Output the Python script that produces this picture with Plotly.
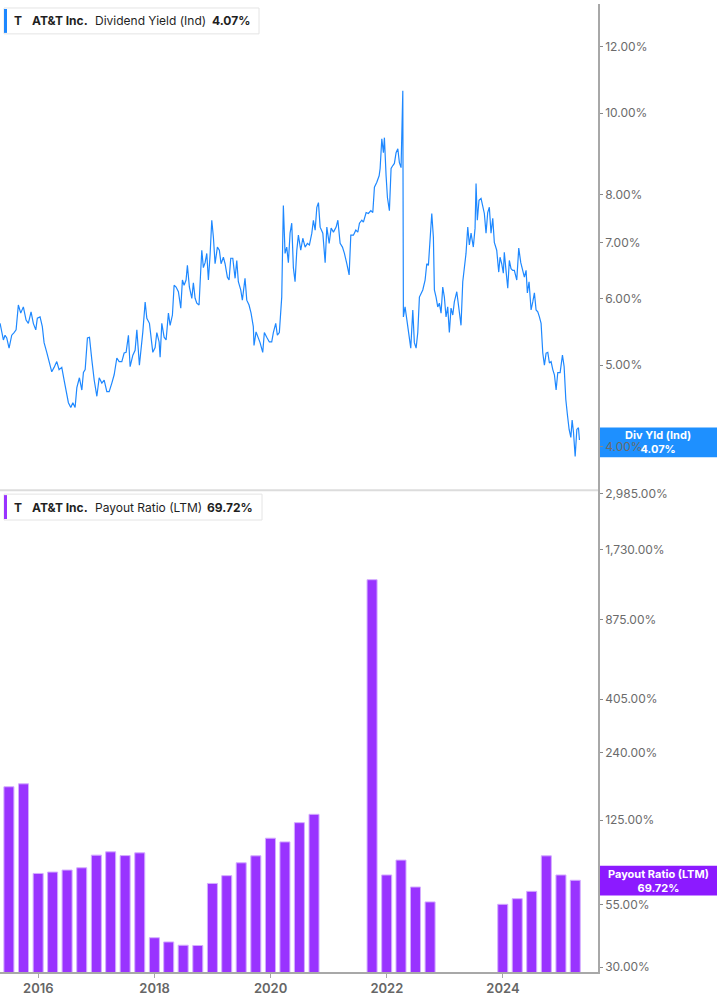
import plotly.graph_objects as go
import pandas as pd
from datetime import datetime, timedelta

# ---------------- data ----------------
yield_t = [
    2015.341, 2015.370, 2015.398, 2015.427, 2015.456, 2015.496, 2015.542, 2015.582, 2015.617, 2015.656,
    2015.697, 2015.742, 2015.789, 2015.828, 2015.875, 2015.914, 2015.956, 2015.983, 2016.030, 2016.069,
    2016.099, 2016.145, 2016.190, 2016.231, 2016.271, 2016.317, 2016.357, 2016.403, 2016.443, 2016.477,
    2016.517, 2016.558, 2016.593, 2016.632, 2016.662, 2016.706, 2016.748, 2016.775, 2016.805, 2016.844,
    2016.879, 2016.920, 2016.960, 2017.006, 2017.046, 2017.092, 2017.132, 2017.178, 2017.218, 2017.264,
    2017.304, 2017.350, 2017.390, 2017.436, 2017.476, 2017.510, 2017.550, 2017.579, 2017.626, 2017.665,
    2017.695, 2017.739,
    2017.798, 2017.838, 2017.867, 2017.912, 2017.936, 2017.970, 2018.010, 2018.039, 2018.079, 2018.096,
    2018.125, 2018.165, 2018.199, 2018.239, 2018.268, 2018.308, 2018.337, 2018.371, 2018.411, 2018.452,
    2018.480, 2018.509, 2018.543, 2018.566, 2018.600, 2018.642, 2018.669, 2018.699, 2018.728, 2018.767,
    2018.785, 2018.814, 2018.841, 2018.871, 2018.900, 2018.928, 2018.957, 2018.986, 2019.014, 2019.043,
    2019.083, 2019.117, 2019.146, 2019.186, 2019.215, 2019.255, 2019.284, 2019.313, 2019.348, 2019.388,
    2019.417, 2019.444, 2019.485, 2019.513, 2019.559, 2019.589, 2019.628, 2019.663, 2019.702, 2019.714,
    2019.749, 2019.788, 2019.818, 2019.864, 2019.892, 2019.933, 2019.978, 2020.019, 2020.047, 2020.088,
    2020.116, 2020.150,
    2020.191, 2020.219, 2020.248, 2020.277, 2020.305, 2020.334, 2020.363, 2020.391, 2020.420, 2020.450,
    2020.477, 2020.518, 2020.553, 2020.593, 2020.632, 2020.667, 2020.708, 2020.735, 2020.765, 2020.794,
    2020.822, 2020.851, 2020.897, 2020.937, 2020.966, 2021.006, 2021.040, 2021.080, 2021.126, 2021.156,
    2021.195, 2021.235, 2021.269, 2021.310, 2021.350, 2021.379, 2021.424, 2021.465, 2021.500, 2021.528,
    2021.569, 2021.596, 2021.643, 2021.682, 2021.724, 2021.758, 2021.786, 2021.827, 2021.867, 2021.884,
    2021.913, 2021.941, 2021.958, 2021.987, 2022.010, 2022.044, 2022.073, 2022.103, 2022.130, 2022.159,
    2022.189, 2022.216, 2022.245, 2022.275, 2022.285, 2022.314, 2022.343, 2022.378, 2022.412, 2022.447,
    2022.474, 2022.504, 2022.533, 2022.561,
    2022.619, 2022.659, 2022.688, 2022.716, 2022.745, 2022.774, 2022.802, 2022.819, 2022.848, 2022.877,
    2022.905, 2022.934, 2022.963, 2022.991, 2023.020, 2023.049, 2023.077, 2023.106, 2023.136, 2023.163,
    2023.205, 2023.244, 2023.278, 2023.308, 2023.335, 2023.364, 2023.394, 2023.422, 2023.451, 2023.490,
    2023.520, 2023.537, 2023.559, 2023.588, 2023.623, 2023.652, 2023.680, 2023.709, 2023.738, 2023.766,
    2023.795, 2023.825, 2023.852, 2023.893, 2023.928, 2023.950, 2023.979, 2024.007, 2024.024, 2024.053,
    2024.083, 2024.110, 2024.139, 2024.169, 2024.196, 2024.238, 2024.272, 2024.307, 2024.341, 2024.369,
    2024.398, 2024.420, 2024.449, 2024.484, 2024.513, 2024.541, 2024.570, 2024.599, 2024.627, 2024.656,
    2024.685, 2024.713, 2024.742, 2024.771, 2024.799, 2024.828, 2024.857, 2024.885, 2024.914, 2024.943,
    2024.983, 2025.023, 2025.052, 2025.081, 2025.109, 2025.138, 2025.168, 2025.190, 2025.213, 2025.242,
    2025.271, 2025.299, 2025.316,
]
yield_pct = [
    5.61, 5.47, 5.36, 5.43, 5.39, 5.24, 5.43, 5.47, 5.51, 5.90,
    5.77, 5.87, 5.66, 5.61, 5.79, 5.61, 5.51, 5.69, 5.71, 5.56,
    5.32, 5.18, 5.03, 4.91, 4.97, 5.05, 4.94, 4.97, 4.80, 4.67,
    4.51, 4.45, 4.51, 4.45, 4.70, 4.83, 4.67, 4.90, 4.94, 5.39,
    5.40, 5.07, 4.80, 4.59, 4.83, 4.76, 4.80, 4.65, 4.65, 4.76,
    4.87, 5.10, 5.05, 5.05, 5.17, 5.18, 5.43, 4.98, 5.14, 5.21,
    5.51, 5.00,
    5.48, 5.95, 5.69, 5.61, 5.40, 5.18, 5.25, 5.47, 5.33, 5.11,
    5.61, 5.40, 5.36, 5.77, 5.58, 5.74, 6.23, 6.20, 6.12, 5.85,
    6.32, 6.23, 6.32, 6.58, 6.20, 6.01, 6.27, 6.01, 5.93, 5.90,
    6.27, 6.86, 6.54, 6.63, 6.80, 6.32, 6.77, 7.45, 7.11, 6.61,
    6.92, 6.86, 6.61, 6.73, 6.61, 6.37, 6.32, 6.71, 6.71, 6.35,
    6.67, 6.29, 6.15, 5.98, 6.35, 5.98, 5.90, 5.77, 5.56, 5.28,
    5.48, 5.40, 5.32, 5.18, 5.47, 5.40, 5.33, 5.33, 5.47, 5.61,
    5.43, 5.47,
    6.03, 7.76, 6.80, 6.92, 6.63, 7.19, 7.39, 6.54, 6.29, 6.86,
    7.15, 6.86, 7.09, 6.92, 6.99, 6.96, 7.19, 7.45, 7.25, 7.72,
    7.82, 7.31, 7.19, 6.63, 7.31, 6.99, 7.29, 7.21, 7.31, 7.45,
    6.99, 6.92, 6.80, 6.61, 6.41, 7.15, 7.15, 7.25, 7.21, 7.39,
    7.45, 7.41, 7.61, 7.59, 7.65, 7.61, 8.16, 8.27, 8.42, 8.59,
    9.32, 8.97, 9.35, 8.42, 7.93, 7.65, 8.59, 8.66, 8.71, 8.97,
    9.07, 8.73, 8.61, 10.64, 5.71, 5.87, 5.66, 5.40, 5.24, 5.82,
    5.32, 5.24, 5.47, 6.03,
    6.15, 6.32, 6.61, 6.58, 7.21, 7.59, 7.11, 6.15, 6.03, 5.87,
    5.93, 5.77, 6.20, 6.03, 5.71, 5.87, 5.47, 5.85, 5.74, 5.95,
    6.12, 5.82, 5.58, 6.29, 6.54, 6.80, 7.31, 6.96, 7.19, 6.92,
    7.29, 8.24, 7.45, 7.87, 7.91, 7.70, 7.59, 7.19, 7.61, 7.72,
    7.19, 7.49, 7.01, 6.86, 6.46, 6.73, 6.61, 6.44, 6.82, 6.49,
    6.18, 6.67, 6.52, 6.49, 6.49, 6.32, 6.90, 6.63, 6.49, 6.37,
    6.49, 6.10, 6.29, 5.82, 5.95, 6.10, 5.82, 5.79, 5.71, 5.61,
    5.17, 5.00, 5.17, 5.18, 5.03, 5.05, 4.94, 4.87, 4.67, 4.90,
    4.90, 5.14, 4.98, 4.55, 4.36, 4.19, 4.10, 4.30, 4.16, 3.89,
    4.19, 4.21, 4.07,
]

payout_quarters = [
    "2015Q2", "2015Q3", "2015Q4", "2016Q1", "2016Q2", "2016Q3", "2016Q4", "2017Q1", "2017Q2", "2017Q3",
    "2017Q4", "2018Q1", "2018Q2", "2018Q3", "2018Q4", "2019Q1", "2019Q2", "2019Q3", "2019Q4", "2020Q1",
    "2020Q2", "2020Q3", "2021Q3", "2021Q4", "2022Q1", "2022Q2", "2022Q3",
    "2023Q4", "2024Q1", "2024Q2", "2024Q3", "2024Q4", "2025Q1",
]
payout_pct = [
    172.9, 177.9, 74.5, 75.5, 77.0, 78.7, 89.0, 91.9, 88.6, 91.0,
    39.9, 38.3, 37.1, 37.0, 67.6, 72.9, 82.6, 88.4, 104.9, 101.2,
    122.0, 132.3, 1292.0, 73.4, 84.8, 65.3, 56.5,
    55.2, 58.3, 62.6, 88.4, 73.4, 69.72,
]

yield_ticks = [4, 5, 6, 7, 8, 10, 12]
payout_ticks = [30, 55, 125, 240, 405, 875, 1730, 2985]
year_ticks = [2016, 2018, 2020, 2022, 2024]

ticker = "T"
company = "AT&T Inc."
yield_name = "Dividend Yield (Ind)"
payout_name = "Payout Ratio (LTM)"
yield_short = "Div Yld (Ind)"
last_yield = yield_pct[-1]
last_payout = payout_pct[-1]

# ---------------- helpers ----------------
def dec_to_date(t):
    y = int(t)
    start = datetime(y, 1, 1)
    nd = (datetime(y + 1, 1, 1) - start).days
    return start + timedelta(days=(t - y) * nd)

yield_dates = [dec_to_date(t) for t in yield_t]
payout_dates = [pd.Period(q, freq="Q").end_time.normalize() for q in payout_quarters]

W, H = 717, 1005
PL, PR, PT, PB = 0, 598, 0, 971.7   # plot area in px
SPLIT = 488.0

def px(xp):
    return (xp - PL) / (PR - PL)

def py(yp):
    return (PB - yp) / (PB - PT)

BLUE = "#1e88ff"
PURPLE = "#9933ff"
FONT = "Inter"

fig = go.Figure()
fig.add_trace(go.Scatter(
    x=yield_dates, y=yield_pct, mode="lines",
    line=dict(color=BLUE, width=1.2), xaxis="x", yaxis="y",
    showlegend=False, hoverinfo="skip",
))
fig.add_trace(go.Bar(
    x=payout_dates, y=payout_pct, xaxis="x2", yaxis="y2",
    marker=dict(color=PURPLE, line=dict(color="#d4adff", width=1)),
    width=63 * 86400000, showlegend=False, hoverinfo="skip",
))

split_frac = py(SPLIT)
xrange = ["2015-05-05", "2025-08-21"]
tickfont = dict(family=FONT, size=12, color="#6b6b6b")

fig.update_layout(
    width=W, height=H,
    margin=dict(l=PL, r=W - PR, t=PT, b=H - PB),
    paper_bgcolor="white", plot_bgcolor="white",
    font=dict(family=FONT),
    xaxis=dict(domain=[0, 1], anchor="y", matches="x2", type="date", range=xrange,
               showticklabels=False, showline=False, showgrid=False, zeroline=False, ticks=""),
    yaxis=dict(domain=[split_frac, 1], anchor="x", side="right", type="log",
               range=[0.5497, 1.1305], tickvals=yield_ticks,
               ticktext=[f"{v:.2f}%" for v in yield_ticks],
               showgrid=False, zeroline=False, showline=True, linecolor="#a8a8a8", linewidth=1.5,
               ticks="outside", ticklen=3, tickwidth=1, tickcolor="#888",
               tickfont=tickfont),
    xaxis2=dict(domain=[0, 1], anchor="y2", type="date", range=xrange,
                tickvals=[datetime(y, 1, 1) for y in year_ticks],
                ticktext=[str(y) for y in year_ticks],
                showgrid=False, zeroline=False, showline=True, linecolor="#a8a8a8", linewidth=1.5,
                ticks="outside", ticklen=4, tickcolor="#a8a8a8",
                tickfont=dict(family=FONT, size=13, color="#666", weight=600)),
    yaxis2=dict(domain=[0, split_frac], anchor="x2", side="right", type="log",
                range=[1.4564, 3.489], tickvals=payout_ticks,
                ticktext=[f"{v:,.2f}%" for v in payout_ticks],
                showgrid=False, zeroline=False, showline=True, linecolor="#a8a8a8", linewidth=1.5,
                ticks="outside", ticklen=3, tickwidth=1, tickcolor="#888",
                tickfont=tickfont),
    bargap=0.3,
)

shapes = []
annotations = []

# divider between panels
shapes.append(dict(type="line", xref="paper", yref="paper", x0=0, x1=1,
                   y0=split_frac, y1=split_frac, line=dict(color="#dcdcdc", width=2)))

def legend_box(y0, y1, xr, color, parts):
    shapes.append(dict(type="rect", xref="paper", yref="paper", x0=px(4), x1=px(xr),
                       y0=py(y1), y1=py(y0), line=dict(color="#e4e4e4", width=1),
                       fillcolor="white", layer="above"))
    shapes.append(dict(type="rect", xref="paper", yref="paper", x0=px(4), x1=px(7),
                       y0=py(y1 - 1), y1=py(y0 + 1), line=dict(width=0),
                       fillcolor=color, layer="above"))
    ym = (y0 + y1) / 2
    for xp_, txt, bold in parts:
        annotations.append(dict(xref="paper", yref="paper", x=px(xp_), y=py(ym),
                                xanchor="left", yanchor="middle", showarrow=False,
                                text=f"<b>{txt}</b>" if bold else txt,
                                font=dict(family=FONT, size=12, color="#1f1f1f")))

legend_box(4, 30, 259, BLUE, [(12, ticker, True), (30, company, True),
                               (93, yield_name, False), (210, f"{last_yield:.2f}%", True)])
legend_box(492, 518, 262, PURPLE, [(12, ticker, True), (30, company, True),
                                    (93, payout_name, False), (205, f"{last_payout:.2f}%", True)])

def value_tag(y0, y1, color, label, value):
    shapes.append(dict(type="rect", xref="paper", yref="paper", x0=px(598), x1=px(717),
                       y0=py(y1), y1=py(y0), line=dict(width=0), fillcolor=color, layer="below"))
    annotations.append(dict(xref="paper", yref="paper", x=px(658), y=py((y0 + y1) / 2),
                            xanchor="center", yanchor="middle", showarrow=False,
                            text=f"<b>{label}</b><br><b>{value:.2f}%</b>",
                            font=dict(family=FONT, size=11, color="white")))

value_tag(425, 455, "#1e90ff", yield_short, last_yield)
value_tag(865, 895, "#8c1aff", payout_name, last_payout)

fig.update_layout(shapes=shapes, annotations=annotations)
fig.write_html(
    "out.html",
    config={"displayModeBar": False},
    post_script="document.body.style.margin='0';document.body.style.overflow='hidden';",
)
